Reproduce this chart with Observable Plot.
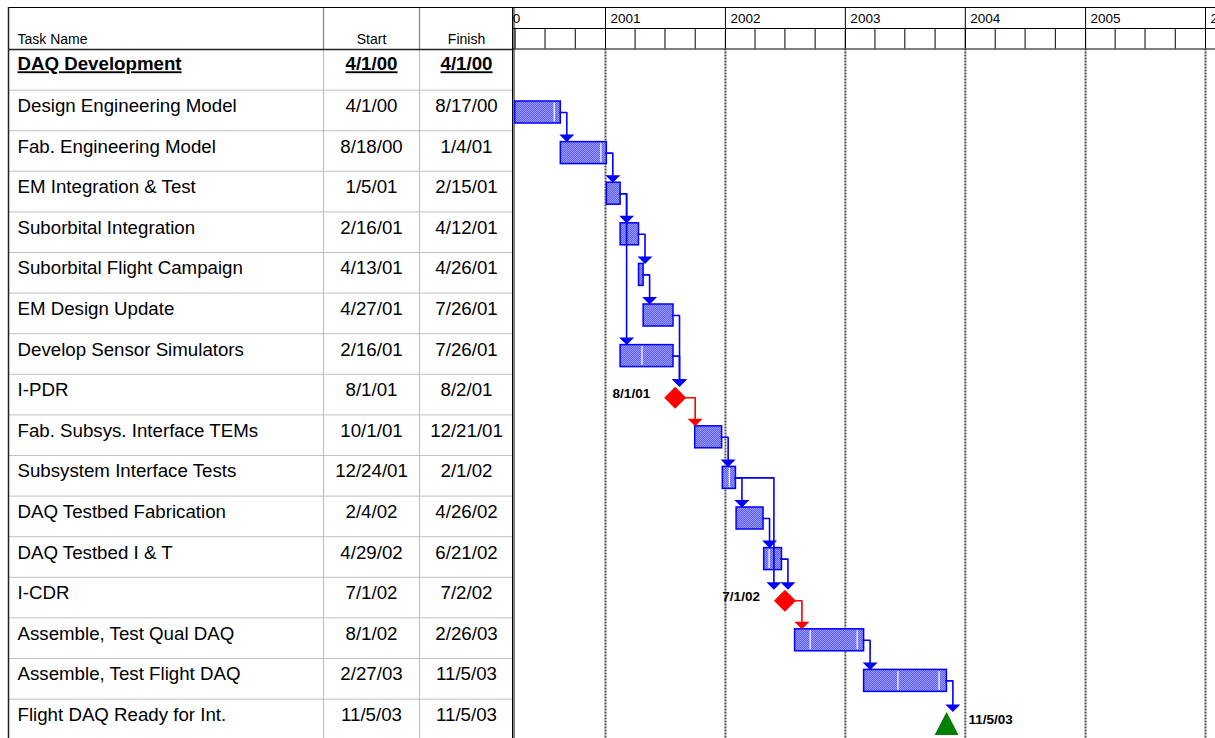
<!DOCTYPE html>
<html><head><meta charset="utf-8">
<script src="https://cdn.jsdelivr.net/npm/d3@7"></script>
<script src="https://cdn.jsdelivr.net/npm/@observablehq/plot@0.6"></script>
<style>
html,body{margin:0;padding:0;background:#fff;}
#wrap{display:flex;width:1215px;height:738px;overflow:hidden;}
#wrap svg{display:block;flex:none;overflow:hidden;max-width:none;}
</style></head><body><div id="wrap"></div>
<script>
// ---------------- data ----------------
const headerLabels = ["Task Name", "Start", "Finish"];
const taskNames = ["DAQ Development","Design Engineering Model","Fab. Engineering Model","EM Integration & Test","Suborbital Integration","Suborbital Flight Campaign","EM Design Update","Develop Sensor Simulators","I-PDR","Fab. Subsys. Interface TEMs","Subsystem Interface Tests","DAQ Testbed Fabrication","DAQ Testbed I & T","I-CDR","Assemble, Test Qual DAQ","Assemble, Test Flight DAQ","Flight DAQ Ready for Int."];
const startText = ["4/1/00","4/1/00","8/18/00","1/5/01","2/16/01","4/13/01","4/27/01","2/16/01","8/1/01","10/1/01","12/24/01","2/4/02","4/29/02","7/1/02","8/1/02","2/27/03","11/5/03"];
const finishText = ["4/1/00","8/17/00","1/4/01","2/15/01","4/12/01","4/26/01","7/26/01","7/26/01","8/2/01","12/21/01","2/1/02","4/26/02","6/21/02","7/2/02","2/26/03","11/5/03","11/5/03"];
const taskKind = ["summary","task","task","task","task","task","task","task","milestone","task","task","task","task","milestone","task","task","goal"];
// predecessor -> successor (row indices)
const links = [[1,2],[2,3],[3,4],[3,7],[4,5],[5,6],[6,8],[7,8],[8,9],[9,10],[10,11],[10,13],[11,12],[12,13],[13,14],[14,15],[15,16]];
// white split marks inside bars: [row, date]
const barDividers = [[1,"7/29/00"],[2,"12/18/00"],[7,"4/22/01"],[10,"1/13/02"],[12,"5/14/02"],[14,"9/16/02"],[14,"2/6/03"],[15,"6/10/03"],[15,"10/13/03"]];
const yearTicks = [2000,2001,2002,2003,2004,2005,2006];

// ---------------- helpers ----------------
const parse = s => { const [m,d,y] = s.split("/").map(Number); return new Date(Date.UTC(2000+y, m-1, d)); };
const DAY = 864e5;
const tasks = taskNames.map((name,i)=>({i, name, kind: taskKind[i], startText: startText[i], finishText: finishText[i],
  start: parse(startText[i]), finish: new Date(+parse(finishText[i]) + DAY)}));
const years = yearTicks.map(y => new Date(Date.UTC(y,0,1)));
const quarters = d3.utcMonth.every(3).range(years[0], years[years.length-1]);

// ---------------- layout ----------------
const W = 1215, H = 738, TW = 513, GW = W - TW;
const ROW0 = 49, ROWH = 40.6, NR = taskNames.length;
const py = p => (p - ROW0) / ROWH;
const HDR_TOP = 7, HDR_MID = 28, HDR_BOT = 48.5;
const L = 8, COL1 = 323, COL2 = 419, NAME_X = 17;
const BAR_T = 11.4, BAR_B = 33.4, BAR_MID = 22.4;
const MS_C = 23.5, MS_R = 11, GOAL_C = 24.5, GOAL_HH = 11.5, GOAL_HW = 12;
const ARW_H = 7;
const BODY_FS = 18.7;
const BLUE = "#0000ff", RED = "#ff0000", GREEN = "#008000", GRID = "#c0c0c0";
const FONT = "'Liberation Sans', Arial, Helvetica, sans-serif";
const yOpt = {type: "linear", domain: [0, NR], range: [ROW0, ROW0 + NR*ROWH], axis: null};
const colCenter = [NAME_X, (COL1+COL2)/2, (COL2+TW)/2];

// ---------------- table ----------------
const rowLines = tasks.map(t => t.i + 1);
const summary = tasks.filter(t => t.kind === "summary");
const others = tasks.filter(t => t.kind !== "summary");
const table = Plot.plot({
  width: TW, height: H, margin: 0,
  style: {fontFamily: FONT, background: "white", overflow: "hidden"},
  x: {type: "linear", domain: [0, TW], range: [0, TW], axis: null},
  y: yOpt,
  marks: [
    Plot.ruleY(rowLines, {x1: L, x2: TW, stroke: GRID, strokeWidth: 1}),
    Plot.ruleX([COL1, COL2], {y1: 0, y2: NR, stroke: GRID, strokeWidth: 1.2}),
    Plot.ruleX([COL1, COL2], {y1: py(HDR_TOP), y2: 0, stroke: "#808080", strokeWidth: 1.2}),
    Plot.ruleY([py(HDR_TOP)], {x1: L, x2: TW, stroke: "black", strokeWidth: 1}),
    Plot.ruleY([0], {x1: L, x2: TW, stroke: "#222", strokeWidth: 1.5}),
    Plot.ruleX([L], {y1: py(HDR_TOP), y2: NR, stroke: "#222", strokeWidth: 1.5}),
    Plot.ruleX([TW - 0.75], {y1: py(HDR_TOP), y2: NR, stroke: "black", strokeWidth: 1.5}),
    Plot.text([headerLabels[0]], {x: colCenter[0], y: py(43.5), text: d => d, fontSize: 14, lineAnchor: "bottom", textAnchor: "start", fill: "black"}),
    Plot.text(headerLabels.slice(1), {x: (d,i) => colCenter[i+1], y: py(43.5), text: d => d, fontSize: 14, lineAnchor: "bottom", textAnchor: "middle", fill: "black"}),
    // summary row
    Plot.text(summary, {x: colCenter[0], y: d => d.i + 0.5, dy: 0.5, text: "name", textAnchor: "start", lineAnchor: "bottom", fontSize: BODY_FS, fontWeight: "bold", fill: "black"}),
    Plot.text(summary, {x: colCenter[1], y: d => d.i + 0.5, dy: 0.5, text: "startText", lineAnchor: "bottom", fontSize: BODY_FS, fontWeight: "bold", fill: "black"}),
    Plot.text(summary, {x: colCenter[2], y: d => d.i + 0.5, dy: 0.5, text: "finishText", lineAnchor: "bottom", fontSize: BODY_FS, fontWeight: "bold", fill: "black"}),
    // other rows
    Plot.text(others, {x: colCenter[0], y: d => d.i + 0.5, dy: 1.5, text: "name", textAnchor: "start", lineAnchor: "bottom", fontSize: BODY_FS, fill: "black"}),
    Plot.text(others, {x: colCenter[1], y: d => d.i + 0.5, dy: 1.5, text: "startText", lineAnchor: "bottom", fontSize: BODY_FS, fill: "black"}),
    Plot.text(others, {x: colCenter[2], y: d => d.i + 0.5, dy: 1.5, text: "finishText", lineAnchor: "bottom", fontSize: BODY_FS, fill: "black"})
  ]
});
// underline the summary row (bold texts)
table.querySelectorAll('g[font-weight="bold"] text').forEach(t => {
  t.style.textDecoration = "underline";
  t.setAttribute("text-decoration", "underline");
});

// ---------------- gantt ----------------
const xOpt = {type: "utc", domain: [years[1], years[6]], range: [605 - TW, 1205 - TW], axis: null};
const xs = Plot.scale({x: xOpt});
function geom(t) {
  const top = ROW0 + t.i * ROWH;
  if (t.kind === "task") return {left: xs.apply(t.start), right: xs.apply(t.finish), top: top + BAR_T, mid: top + BAR_MID};
  const c = xs.apply(t.start);
  if (t.kind === "milestone") return {left: c - MS_R, right: c + MS_R, top: top + MS_C - MS_R, mid: top + MS_C};
  return {left: c - GOAL_HW, right: c + GOAL_HW, top: top + GOAL_C - GOAL_HH, mid: top + GOAL_C};
}
const linkPts = [], arrowPts = [];
links.forEach(([a, b], k) => {
  const A = geom(tasks[a]), B = geom(tasks[b]);
  const vx = Math.max(A.right + 6, B.left);
  const color = tasks[a].kind === "milestone" ? RED : BLUE;
  [[A.right - 1, A.mid], [vx, A.mid], [vx, B.top - ARW_H + 1]].forEach(([x, y]) =>
    linkPts.push({k, x: xs.invert(x), y: py(y), color}));
  arrowPts.push({x: xs.invert(vx), y: py(B.top), color});
});
const downArrow = {draw(c) { c.moveTo(0, 0); c.lineTo(-7.5, -7.5); c.lineTo(7.5, -7.5); c.closePath(); }};
const diamondSym = {draw(c) { c.moveTo(0, -MS_R); c.lineTo(MS_R, 0); c.lineTo(0, MS_R); c.lineTo(-MS_R, 0); c.closePath(); }};
const goalSym = {draw(c) { c.moveTo(0, -GOAL_HH); c.lineTo(GOAL_HW, GOAL_HH); c.lineTo(-GOAL_HW, GOAL_HH); c.closePath(); }};
const taskBars = tasks.filter(t => t.kind === "task");
const milestones = tasks.filter(t => t.kind === "milestone");
const goals = tasks.filter(t => t.kind === "goal");
const dividers = barDividers.map(([row, s]) => ({row, date: parse(s)}));

const gantt = Plot.plot({
  width: GW, height: H, margin: 0,
  style: {fontFamily: FONT, background: "white", overflow: "hidden"},
  x: xOpt, y: yOpt, color: {type: "identity"},
  marks: [
    // header
    Plot.ruleY([py(HDR_TOP), py(HDR_MID), py(HDR_BOT)], {stroke: "black", strokeWidth: 1}),
    Plot.ruleX(quarters, {y1: py(HDR_MID), y2: py(HDR_BOT), stroke: "black", strokeWidth: 1}),
    Plot.ruleX(years, {y1: py(HDR_TOP), y2: py(HDR_BOT), stroke: "black", strokeWidth: 1}),
    Plot.text(years, {x: d => d, y: py(22), text: d => String(d.getUTCFullYear()), textAnchor: "start", lineAnchor: "bottom", dx: 5, fontSize: 13.5, fill: "black"}),
    // year dividers in body
    Plot.ruleX(years.slice(1), {y1: py(HDR_BOT), y2: NR, stroke: "#505050", strokeWidth: 2, strokeDasharray: "2,1"}),
    Plot.ruleX([xs.invert(0.5)], {y1: py(HDR_TOP), y2: NR, stroke: "black", strokeWidth: 1}),
    // bars
    Plot.rect(taskBars, {x1: "start", x2: "finish", y1: d => d.i, y2: d => d.i + 1, insetTop: BAR_T, insetBottom: ROWH - BAR_B, fill: "url(#chk)", stroke: BLUE, strokeWidth: 1.5}),
    Plot.ruleX(dividers, {x: "date", y1: d => d.row, y2: d => d.row + 1, insetTop: BAR_T + 1.5, insetBottom: ROWH - BAR_B + 1.5, stroke: "white", strokeWidth: 1.2}),
    // links
    Plot.line(linkPts, {x: "x", y: "y", z: "k", stroke: "color", strokeWidth: 1.6, curve: "linear"}),
    Plot.dot(arrowPts, {x: "x", y: "y", symbol: downArrow, fill: "color", stroke: "none"}),
    // milestones
    Plot.dot(milestones, {x: "start", y: d => d.i + MS_C / ROWH, symbol: diamondSym, fill: RED, stroke: "none"}),
    Plot.text(milestones, {x: "start", y: d => d.i + MS_C / ROWH, text: "startText", dx: -25, dy: 0, textAnchor: "end", lineAnchor: "bottom", fontSize: 13.5, fontWeight: "bold", fill: "black"}),
    Plot.dot(goals, {x: "start", y: d => d.i + GOAL_C / ROWH, symbol: goalSym, fill: GREEN, stroke: "none"}),
    Plot.text(goals, {x: "start", y: d => d.i + GOAL_C / ROWH, text: "startText", dx: 22, dy: 0.5, textAnchor: "start", lineAnchor: "bottom", fontSize: 13.5, fontWeight: "bold", fill: "black"})
  ]
});
const defs = document.createElementNS("http://www.w3.org/2000/svg", "defs");
defs.innerHTML = '<pattern id="chk" width="2" height="2" patternUnits="userSpaceOnUse"><rect width="2" height="2" fill="#9696fc"/><rect width="1" height="1" fill="#6262f2"/><rect x="1" y="1" width="1" height="1" fill="#6262f2"/></pattern>';
gantt.insertBefore(defs, gantt.firstChild);

const wrap = document.getElementById("wrap");
wrap.appendChild(table);
wrap.appendChild(gantt);
</script></body></html>
